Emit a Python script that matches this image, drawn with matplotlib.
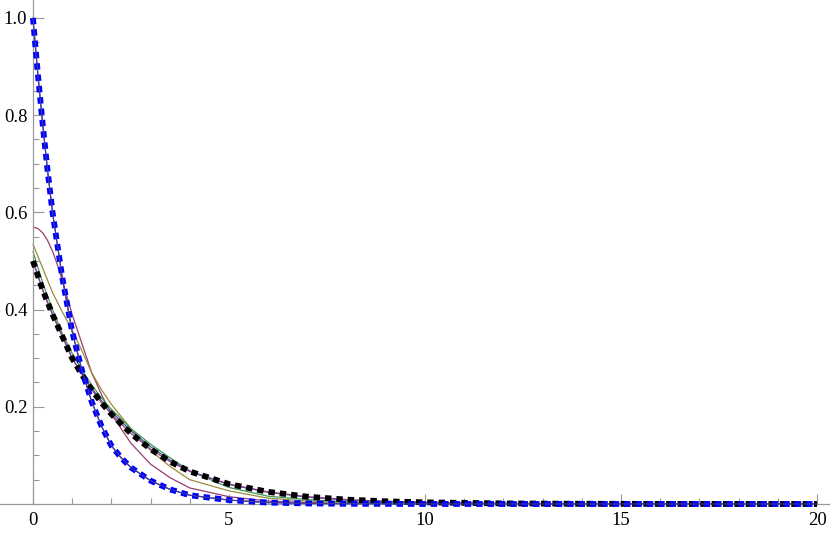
import matplotlib
matplotlib.use("Agg")
import matplotlib.pyplot as plt
from matplotlib.ticker import MultipleLocator, FixedLocator

# values
x_fast = [0, 0.125, 0.25, 0.375, 0.5, 0.75, 1, 1.25, 1.5, 1.75, 2, 2.25, 2.5, 3, 3.5, 4, 5, 6, 7, 8,
          10, 12, 15, 20]
y_fast = [1.0, 0.885, 0.78, 0.685, 0.60, 0.465, 0.355, 0.275, 0.21, 0.16, 0.12, 0.095, 0.075,
          0.048, 0.03, 0.018, 0.008, 0.003, 0.0012, 0.0005, 0.0001, 0, 0, 0]

x_slow = [0, 0.25, 0.5, 0.75, 1, 1.25, 1.5, 1.75, 2, 2.5, 3, 3.5, 4, 5, 6, 7, 8, 9, 10, 12, 14,
          16, 20]
y_slow = [0.5, 0.44, 0.39, 0.345, 0.30, 0.266, 0.235, 0.208, 0.185, 0.145, 0.113, 0.087, 0.067,
          0.041, 0.025, 0.015, 0.009, 0.0055, 0.0034, 0.0012, 0.0005, 0.0002, 0]

x_mid = [0, 0.125, 0.25, 0.375, 0.5, 0.625, 0.75, 1, 1.25, 1.5, 1.75, 2, 2.5, 3, 3.5, 4, 5, 6,
         7, 8, 10, 12, 20]
y_purple = [0.57, 0.567, 0.558, 0.542, 0.52, 0.492, 0.46, 0.39, 0.33, 0.27, 0.225, 0.185, 0.125,
            0.082, 0.054, 0.033, 0.015, 0.006, 0.003, 0.001, 0.0002, 0, 0]
y_gold = [0.535, 0.51, 0.485, 0.46, 0.435, 0.415, 0.395, 0.358, 0.315, 0.27, 0.235, 0.205, 0.155,
          0.11, 0.077, 0.05, 0.027, 0.012, 0.006, 0.003, 0.0005, 0.0001, 0]
y_green = [0.52, 0.487, 0.455, 0.427, 0.40, 0.375, 0.35, 0.31, 0.275, 0.245, 0.218, 0.195, 0.155,
           0.123, 0.095, 0.068, 0.034, 0.016, 0.009, 0.004, 0.001, 0.0002, 0]
y_blue5 = [0.5, 0.47, 0.44, 0.414, 0.39, 0.367, 0.345, 0.30, 0.268, 0.238, 0.212, 0.19, 0.15,
           0.118, 0.09, 0.068, 0.04, 0.024, 0.014, 0.008, 0.003, 0.001, 0]

x_ticks = [0, 5, 10, 15, 20]
y_ticks = [0.2, 0.4, 0.6, 0.8, 1.0]

# Mathematica-style default colours
c1 = "#3F3D99"
c2 = "#993D71"
c3 = "#998B3D"
c4 = "#3D9956"
c5 = "#3D5A99"
c6 = "#993D8F"

plt.rcParams["font.family"] = ["Liberation Serif", "DejaVu Serif"]

fig = plt.figure(figsize=(8.3, 5.35), dpi=100)
ax = fig.add_axes([0, 31 / 535, 1, 504 / 535])

thin = dict(lw=0.9, clip_on=False, solid_capstyle="butt")
ax.plot(x_fast, y_fast, color=c1, **thin, zorder=2)
ax.plot(x_mid, y_purple, color=c2, **thin, zorder=2)
ax.plot(x_mid, y_gold, color=c3, **thin, zorder=2)
ax.plot(x_mid, y_green, color=c4, **thin, zorder=2)
ax.plot(x_mid, y_blue5, color=c5, **thin, zorder=2)
ax.plot(x_slow, y_slow, color=c6, **thin, zorder=2)

# thick dashed overlays
dash = dict(lw=4.2, dashes=(1.1, 0.85), clip_on=False, dash_capstyle="butt")
ax.plot(x_slow, y_slow, color="black", **dash, zorder=3)
ax.plot(x_fast, y_fast, color="#0000FF", **dash, zorder=4)
ax.plot(x_fast, y_fast, color=c1, lw=0.8, clip_on=False, zorder=5)

ax.set_xlim(-0.84, 20.33)
ax.set_ylim(0, 1.037)

for s in ("top", "right"):
    ax.spines[s].set_visible(False)
ax.spines["left"].set_position(("data", 0))
for s in ("left", "bottom"):
    ax.spines[s].set_color("#999999")
    ax.spines[s].set_linewidth(0.9)

ax.xaxis.set_major_locator(FixedLocator(x_ticks))
ax.xaxis.set_minor_locator(MultipleLocator(1))
ax.yaxis.set_major_locator(FixedLocator(y_ticks))
ax.yaxis.set_minor_locator(MultipleLocator(0.05))
ax.set_xticklabels([str(v) for v in x_ticks])
ax.set_yticklabels([f"{v:.1f}" for v in y_ticks])

ax.tick_params(which="both", direction="in", color="#999999", width=0.8, labelsize=13.5,
               labelcolor="black")
ax.tick_params(axis="x", which="major", length=7, pad=6)
ax.tick_params(axis="x", which="minor", length=4.5)
ax.tick_params(axis="y", which="major", length=8, pad=4)
ax.tick_params(axis="y", which="minor", length=4.5)

fig.savefig("out.png", dpi=100)
